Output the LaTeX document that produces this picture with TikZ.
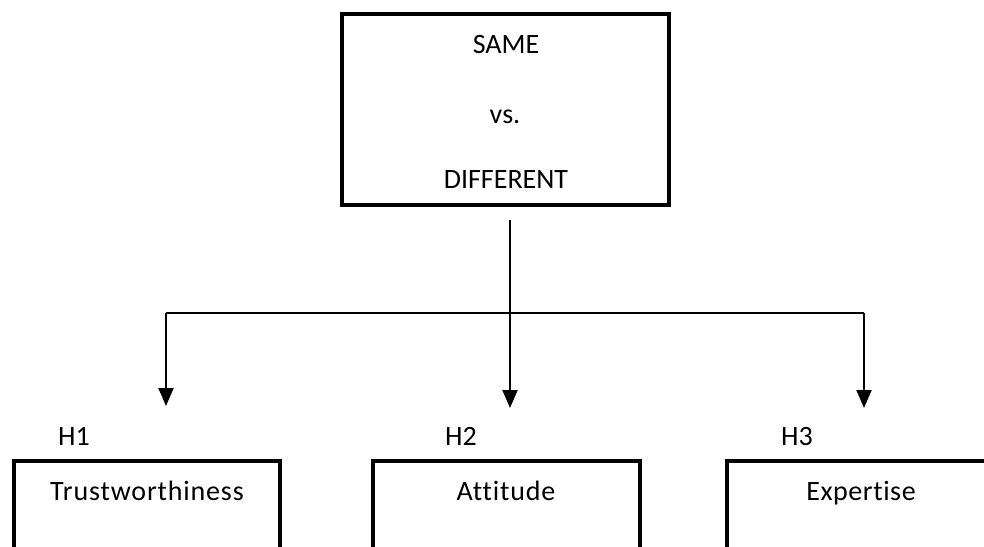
\documentclass[tikz,border=0pt]{standalone}
\usepackage{fontspec}
\setmainfont[Ligatures={NoCommon}]{Carlito}
\usetikzlibrary{arrows.meta}
\begin{document}
\begin{tikzpicture}[x=0.5pt,y=-0.5pt,
  box/.style={draw, line width=2.2pt, rectangle, inner sep=0pt, line join=miter},
  lbl/.style={font=\fontsize{14}{17}\selectfont, anchor=base, inner sep=0pt},
  conn/.style={line width=1pt},
  arr/.style={conn, -{Triangle[width=7.5pt,length=9pt]}}]
\useasboundingbox (0,0) rectangle (984,546);
\clip (0,0) rectangle (984,546);
% top box
\node[box, minimum width=163.5pt, minimum height=95.5pt] (top) at (505.5,109.5) {};
\node[lbl] (same) at (506,54) {SAME};
\node[lbl] (vs) at (505,123) {vs.};
\node[lbl] (diff) at (506,188) {DIFFERENT};
% bottom boxes
\node[box, minimum width=133pt, minimum height=69.5pt] (b1) at (147,530.5) {};
\node[box, minimum width=133.5pt, minimum height=69.5pt] (b2) at (506.5,530.5) {};
\node[box, minimum width=186.5pt, minimum height=69.5pt] (b3) at (913.5,530.5) {};
\node[lbl] (h1) at (74,445) {H1};
\node[lbl] (h2) at (461,445) {H2};
\node[lbl] (h3) at (797,445) {H3};
\node[lbl, font=\fontsize{14}{17}\selectfont\addfontfeatures{LetterSpace=3}] (trust) at (147,500) {Trustworthiness};
\node[lbl, font=\fontsize{14}{17}\selectfont\addfontfeatures{LetterSpace=3}] (att) at (506,500) {Attitude};
\node[lbl, font=\fontsize{14}{17}\selectfont\addfontfeatures{LetterSpace=2}] (exp) at (861,500) {Expertise};
% connectors
\coordinate (ts) at (510,220);
\coordinate (jl) at (166,313);
\coordinate (jr) at (864,313);
\coordinate (t1) at (166,406);
\coordinate (t2) at (510,408);
\coordinate (t3) at (864,408);
\draw[arr] (ts) -- (t2);
\draw[conn] (jl) -- (jr);
\draw[arr] (jl) -- (t1);
\draw[arr] (jr) -- (t3);
\end{tikzpicture}
\end{document}
